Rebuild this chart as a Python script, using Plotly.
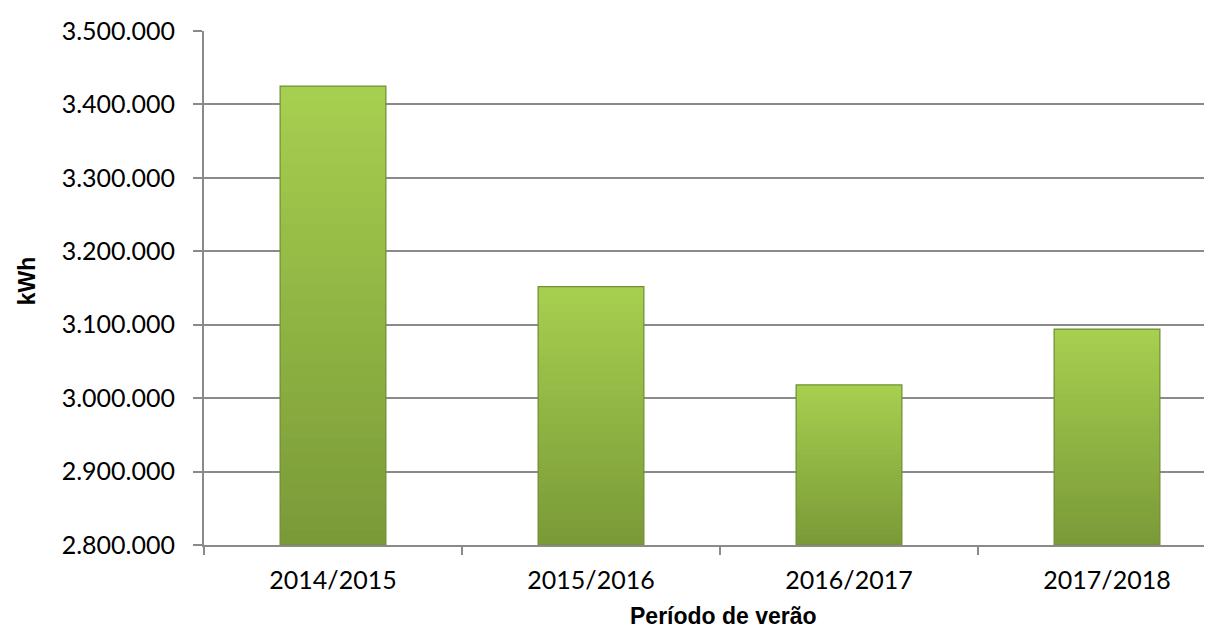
import plotly.graph_objects as go

categories = ["2014/2015", "2015/2016", "2016/2017", "2017/2018"]
values = [3425000, 3152000, 3018000, 3094000]
y_min = 2800000
y_max = 3500000
y_step = 100000

x_title = "Período de verão"
y_title = "kWh"

# gradient for bars (top light -> bottom darker)
top_rgb = (168, 208, 80)
bot_rgb = (122, 154, 56)
N = 30

fig = go.Figure()
for k in range(N):
    f0 = k / N
    f = (k + 0.5) / N
    r = int(bot_rgb[0] + (top_rgb[0] - bot_rgb[0]) * f)
    g = int(bot_rgb[1] + (top_rgb[1] - bot_rgb[1]) * f)
    b = int(bot_rgb[2] + (top_rgb[2] - bot_rgb[2]) * f)
    bases = [y_min + (v - y_min) * f0 for v in values]
    heights = [min((v - y_min) / N * 1.6, v - bs) for v, bs in zip(values, bases)]
    fig.add_trace(go.Bar(
        x=categories, y=heights, base=bases,
        marker=dict(color=f"rgb({r},{g},{b})", line=dict(width=0)),
        width=0.41, showlegend=False, hoverinfo="skip",
    ))
# outline
fig.add_trace(go.Bar(
    x=categories, y=[v - y_min for v in values], base=[y_min] * len(values),
    marker=dict(color="rgba(0,0,0,0)", line=dict(color="#6f8f33", width=1.2)),
    width=0.41, showlegend=False,
))

fig.update_layout(
    width=1212, height=628,
    margin=dict(l=196, r=0, t=23, b=91),
    paper_bgcolor="white", plot_bgcolor="white",
    barmode="overlay",
    separators=",.",
    font=dict(family="Lato", size=25, color="black"),
    xaxis=dict(
        range=[-0.5, 3.438], showgrid=False,
        showline=True, linecolor="#8a8a8a", linewidth=2,
        ticks="outside", tickson="boundaries", ticklen=8, tickcolor="#8a8a8a", tickwidth=2,
        ticklabelstandoff=12,
        tickfont=dict(family="Lato", size=25, color="black"),
    ),
    yaxis=dict(
        range=[y_min, y_max], dtick=y_step, tick0=y_min, tickformat=",d",
        showgrid=True, gridcolor="#8a8a8a", gridwidth=2, zeroline=False,
        showline=True, linecolor="#8a8a8a", linewidth=2,
        ticks="outside", ticklen=9, tickcolor="#8a8a8a", tickwidth=2,
        ticklabelstandoff=13,
        tickfont=dict(family="Lato", size=25, color="black"),
    ),
    annotations=[
        dict(text=f"<b>{x_title}</b>", xref="paper", yref="paper", x=0.511, y=-0.167,
             xanchor="center", yanchor="bottom", showarrow=False,
             font=dict(family="Liberation Sans", size=23, color="black")),
        dict(text=f"<b>{y_title}</b>", xref="paper", yref="paper", x=-0.1747, y=0.514,
             xanchor="center", yanchor="middle", showarrow=False, textangle=-90,
             font=dict(family="Liberation Sans", size=23, color="black")),
    ],
)

fig.write_html("out.html")
